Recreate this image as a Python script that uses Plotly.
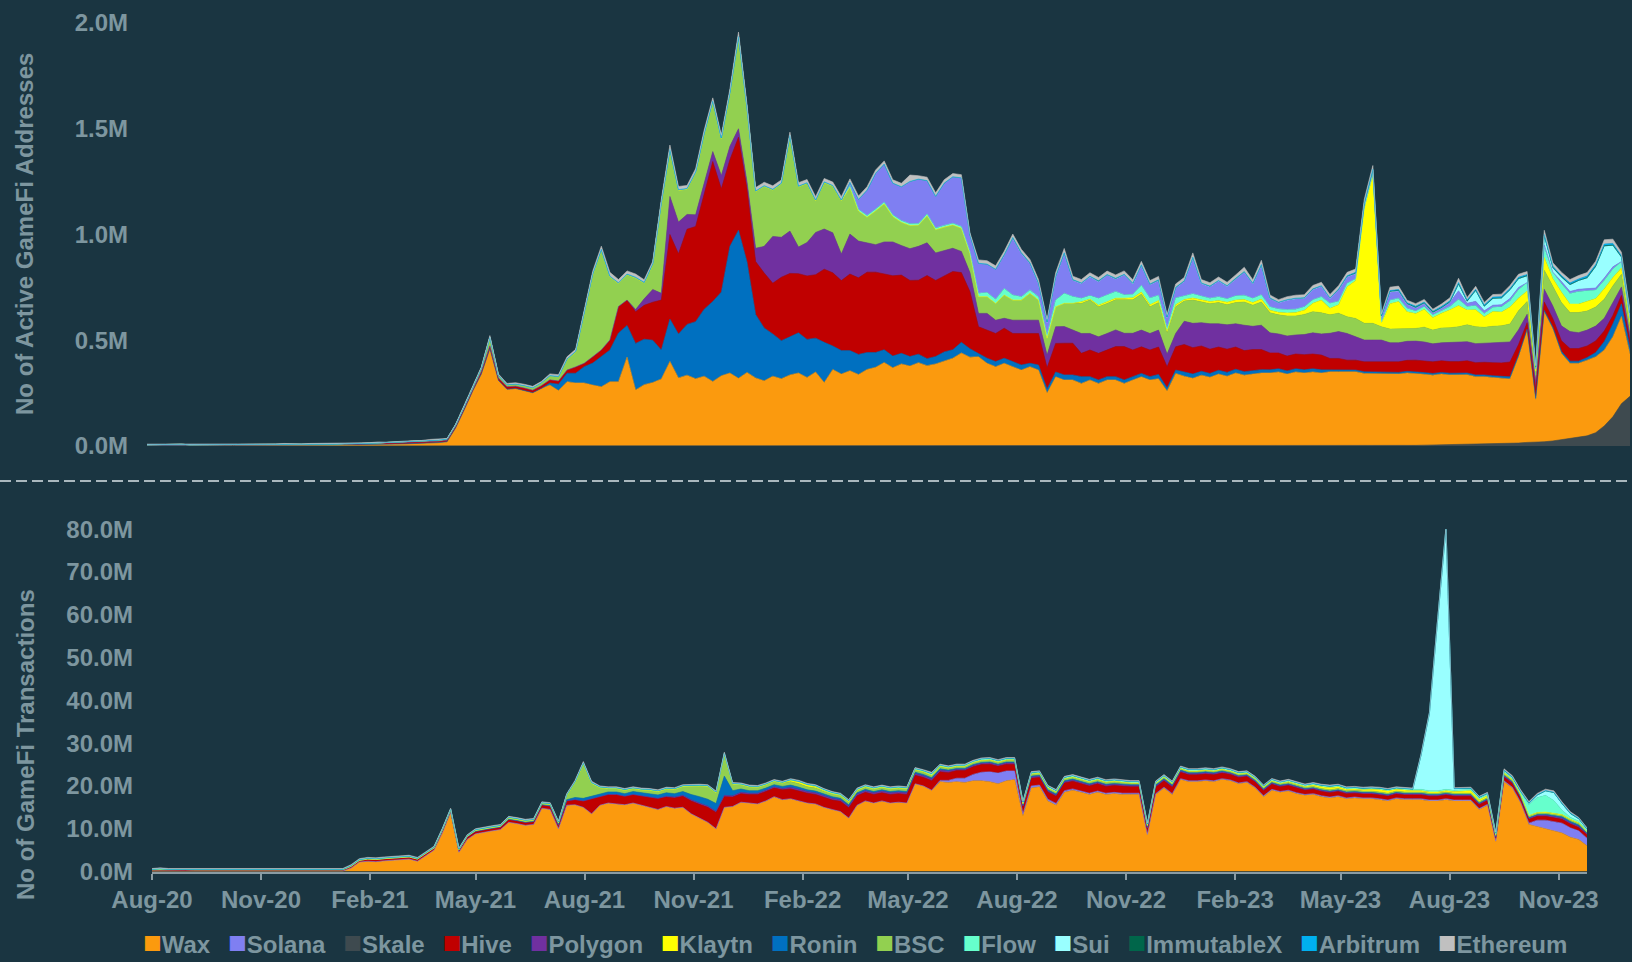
import pandas as pd
import plotly.graph_objects as go

# weekly samples, Aug 2020 -> Nov 2023
dates = pd.date_range("2020-08-01", periods=174, freq="7D")

# ---------- Active GameFi addresses (thousands) ----------
wax_addr = [
    2, 2, 2, 2, 3, 2, 3, 2, 3, 3,
    3, 3, 3, 4, 3, 4, 4, 4, 4, 5,
    5, 5, 5, 6, 6, 6, 7, 8, 8, 9,
    10, 11, 12, 14, 16, 20, 85, 170, 260, 340,
    460, 310, 268, 272, 262, 252, 272, 288, 262, 304,
    298, 298, 288, 280, 304, 304, 420, 265, 290, 300,
    317, 400, 322, 335, 318, 330, 305, 332, 345, 320,
    348, 322, 308, 330, 318, 336, 345, 324, 350, 300,
    362, 340, 356, 338, 362, 372, 395, 370, 388, 378,
    394, 380, 388, 400, 415, 440, 420, 422, 391, 375,
    391, 375, 359, 375, 359, 250, 327, 312, 312, 296,
    312, 296, 312, 312, 296, 312, 327, 312, 318, 260,
    343, 330, 320, 335, 325, 340, 330, 345, 335, 340,
    345, 345, 350, 340, 350, 345, 350, 345, 351, 351,
    351, 351, 343, 343, 343, 340, 340, 345, 340, 335,
    330, 335, 330, 330, 330, 320, 320, 315, 310, 305,
    408, 531, 199, 613, 530, 408, 357, 351, 358, 359,
    359, 379, 412, 200,
]
ronin_addr = [0] * 47 + [
    10, 30, 40,
    46, 77, 104, 142, 150, 230, 150, 220, 215, 200,
    137, 200, 207, 240, 270, 317, 378, 396, 599, 700,
    521, 300, 250, 200, 180, 180, 190, 180, 160, 190,
    111, 111, 95, 95, 80, 70, 60, 55, 50, 45,
    40, 33, 35, 45, 40, 50, 40, 15, 24, 24,
    24, 24, 24, 16, 24, 20, 23, 24, 24, 32,
    16, 16, 16, 16, 16, 16, 16, 16, 20, 15,
    16, 20, 20, 18, 18, 18, 18, 18, 16, 16,
    16, 15, 15, 15, 15, 15, 15, 15, 8, 8,
    8, 8, 8, 8, 8, 8, 8, 8, 8, 8,
    8, 8, 8, 8, 8, 8, 8, 8, 8, 10,
    8, 5, 8, 8, 8, 10, 10, 10, 12, 20,
    40, 60, 60, 30,
]
hive_addr = [
    4, 5, 4, 4, 5, 4, 4, 4, 5, 4,
    4, 4, 5, 4, 4, 4, 5, 4, 4, 4,
    5, 4, 4, 5, 4, 5, 5, 5, 5, 6,
    6, 6, 6, 7, 7, 7, 8, 9, 10, 12,
    14, 12, 12, 11, 12, 12, 13, 15, 15, 15,
    30, 16, 30, 32, 47, 125, 120, 150, 160, 180,
    236, 400, 380, 450, 450, 550, 662, 488, 410, 440,
    346, 250, 260, 240, 300, 300, 280, 300, 300, 346,
    346, 331, 362, 362, 380, 380, 360, 380, 370, 360,
    350, 393, 360, 360, 370, 330, 270, 127, 133, 133,
    142, 133, 149, 141, 149, 100, 135, 150, 150, 110,
    126, 126, 126, 142, 158, 126, 126, 126, 130, 100,
    110, 130, 125, 120, 115, 110, 110, 105, 100, 100,
    95, 80, 75, 70, 70, 72, 70, 70, 55, 55,
    47, 47, 47, 47, 47, 50, 50, 52, 55, 55,
    55, 55, 55, 55, 58, 58, 60, 62, 65, 70,
    50, 30, 40, 40, 40, 50, 60, 60, 55, 55,
    50, 40, 40, 30,
]
polygon_addr = [0] * 57 + [
    10, 31, 60,
    32, 180, 150, 70, 55, 48, 47, 63, 63, 40,
    32, 63, 126, 221, 189, 200, 126, 158, 200, 190,
    189, 126, 189, 174, 140, 130, 150, 160, 140, 150,
    160, 155, 130, 120, 110, 100, 90, 63, 79, 63,
    47, 63, 63, 63, 63, 60, 79, 79, 63, 94,
    78, 78, 78, 79, 63, 79, 79, 78, 80, 60,
    63, 110, 115, 110, 120, 110, 115, 110, 120, 110,
    115, 95, 90, 95, 90, 95, 100, 100, 119, 127,
    126, 110, 103, 103, 103, 90, 90, 90, 90, 90,
    85, 85, 90, 90, 90, 90, 90, 92, 95, 95,
    70, 40, 40, 60, 60, 70, 80, 75, 75, 70,
    60, 60, 40, 30,
]
bsc_addr = [0] * 25 + [
    1, 1, 2, 2, 3,
    3, 4, 4, 5, 5, 6, 7, 8, 10, 16,
    40, 12, 10, 10, 12, 12, 14, 20, 22, 50,
    70, 236, 390, 473, 299, 110, 120, 150, 75, 120,
    426, 220, 150, 120, 200, 230, 237, 174, 252, 434,
    347, 268, 284, 220, 253, 450, 285, 280, 150, 220,
    221, 252, 221, 142, 120, 160, 180, 120, 110, 110,
    100, 128, 110, 110, 110, 110, 90, 79, 79, 79,
    110, 95, 95, 127, 95, 80, 94, 110, 126, 142,
    158, 142, 142, 142, 158, 158, 170, 126, 130, 100,
    126, 95, 110, 100, 95, 100, 95, 100, 110, 100,
    110, 95, 90, 95, 90, 95, 100, 100, 87, 87,
    79, 87, 79, 79, 63, 65, 65, 60, 60, 70,
    65, 70, 70, 75, 80, 80, 75, 80, 80, 85,
    90, 60, 30, 90, 90, 110, 90, 95, 90, 90,
    90, 80, 60, 40,
]
klaytn_addr = [0] * 109 + [
    8,
    5, 8, 8, 8, 8, 10, 10, 10, 10, 8,
    10, 8, 10, 10, 10, 10, 12, 12, 12, 12,
    14, 12, 12, 14, 16, 20, 40, 60, 31, 40,
    142, 180, 540, 700, 16, 120, 130, 80, 70, 85,
    60, 70, 85, 100, 70, 80, 50, 70, 65, 80,
    60, 50, 20, 60, 40, 50, 40, 40, 45, 40,
    50, 40, 30, 20,
]
flow_addr = [0] * 49 + [
    3,
    3, 3, 3, 3, 3, 3, 3, 3, 3, 3,
    3, 3, 3, 3, 3, 3, 3, 3, 3, 3,
    3, 3, 3, 3, 3, 3, 3, 3, 3, 3,
    3, 3, 8, 8, 8, 8, 8, 8, 8, 8,
    8, 8, 8, 8, 8, 8, 8, 16, 20, 20,
    31, 24, 16, 16, 16, 15, 32, 47, 32, 16,
    16, 32, 32, 32, 16, 16, 32, 32, 25, 15,
    32, 16, 20, 16, 16, 18, 16, 20, 20, 20,
    20, 16, 16, 16, 16, 16, 16, 16, 24, 16,
    16, 8, 8, 8, 8, 16, 16, 16, 12, 12,
    12, 12, 16, 30, 16, 20, 16, 20, 25, 30,
    40, 40, 10, 50, 30, 40, 50, 60, 50, 40,
    40, 40, 30, 20,
]
solana_addr = [0] * 82 + [
    16, 47, 120, 170, 180, 150, 160, 200,
    210, 158, 150, 200, 220, 230, 80, 142, 134, 142,
    158, 270, 205, 126, 63, 60, 110, 190, 78, 71,
    90, 80, 95, 60, 95, 50, 95, 64, 70, 50,
    48, 70, 170, 60, 55, 75, 60, 80, 110, 70,
    140, 40, 30, 45, 50, 40, 50, 50, 23, 55,
    32, 25, 16, 16, 24, 40, 35, 20, 16, 16,
    10, 12, 20, 40, 16, 20, 12, 10, 10, 10,
    10, 0, 0, 10, 0, 10, 10, 10, 10, 10,
    10, 10, 0, 0,
]
sui_addr = [0] * 153 + [
    30, 8, 50, 20, 30, 30, 40,
    40, 30, 5, 40, 20, 20, 30, 40, 50, 100,
    150, 100, 20, 20,
]
skale_addr = [0] * 148 + [
    3, 4,
    5, 5, 6, 6, 7, 8, 8, 9, 10, 12,
    14, 17, 18, 20, 24, 30, 34, 40, 48, 63,
    95, 138, 200, 235,
]
imx_addr = [0] * 100 + [
    2, 2, 3, 2, 2, 2, 3, 2, 2, 2,
    2, 3, 2, 2, 2, 3, 2, 2, 3, 2,
    2, 2, 3, 2, 2, 2, 2, 3, 2, 2,
    3, 2, 2, 2, 2, 3, 2, 2, 2, 3,
    2, 2, 3, 2, 2, 3, 2, 2, 2, 2,
    3, 2, 2, 3, 2, 2, 2, 3, 2, 2,
    2, 3, 2, 3, 2, 2, 3, 2, 3, 3,
    3, 3, 2, 2,
]
arb_addr = [0] * 140 + [
    2, 3, 3, 4, 3, 3, 4, 4, 5, 4,
    4, 5, 5, 6, 5, 5, 6, 5, 6, 6,
    6, 5, 3, 6, 6, 6, 7, 7, 8, 8,
    8, 8, 6, 4,
]
eth_addr = [
    3, 2, 3, 2, 2, 3, 2, 2, 3, 2,
    2, 3, 2, 2, 3, 2, 3, 2, 2, 3,
    2, 3, 3, 2, 3, 3, 3, 4, 3, 4,
    4, 4, 4, 5, 5, 3, 3, 4, 5, 6,
    8, 6, 6, 6, 6, 6, 6, 8, 8, 10,
    10, 15, 12, 15, 18, 15, 15, 15, 12, 10,
    15, 20, 15, 14, 15, 16, 14, 15, 16, 20,
    16, 16, 16, 16, 15, 15, 16, 15, 16, 16,
    16, 16, 16, 16, 16, 15, 15, 16, 16, 30,
    16, 16, 16, 16, 15, 15, 10, 16, 16, 16,
    16, 16, 16, 16, 16, 12, 16, 20, 16, 16,
    16, 16, 16, 16, 16, 16, 16, 16, 16, 12,
    16, 16, 20, 16, 16, 16, 16, 16, 20, 16,
    20, 14, 12, 14, 14, 14, 16, 16, 16, 16,
    16, 16, 16, 16, 8, 16, 16, 12, 12, 12,
    10, 12, 14, 20, 12, 14, 12, 12, 12, 14,
    14, 14, 5, 20, 16, 16, 16, 16, 16, 16,
    20, 20, 16, 10,
]

# ---------- GameFi transactions (millions) ----------
wax_tx = [
    0.1, 0.1, 0.1, 0.1, 0.1, 0.1, 0.1, 0.1, 0.1, 0.1,
    0.1, 0.1, 0.1, 0.1, 0.1, 0.1, 0.1, 0.1, 0.1, 0.1,
    0.1, 0.1, 0.1, 0.1, 0.8, 2.2, 2.4, 2.3, 2.5, 2.6,
    2.8, 2.9, 2.4, 3.8, 5.0, 9.0, 13.8, 4.5, 7.5, 8.8,
    9.2, 9.5, 9.8, 11.5, 11.2, 10.8, 11.0, 14.8, 14.5, 10.0,
    15.5, 15.6, 15.0, 13.5, 15.5, 16.0, 15.8, 15.6, 16.0, 15.5,
    15.0, 14.5, 15.2, 14.8, 15.0, 13.5, 12.5, 11.5, 10.0, 15.0,
    15.2, 16.2, 16.0, 15.8, 16.5, 17.5, 16.8, 17.0, 16.5, 16.0,
    15.8, 15.0, 14.5, 14.0, 12.5, 15.5, 16.5, 16.0, 16.5, 16.0,
    16.2, 16.0, 20.5, 20.0, 19.0, 21.0, 20.8, 21.0, 20.8, 21.2,
    21.2, 21.0, 20.5, 21.2, 21.5, 13.0, 19.5, 19.8, 16.5, 15.5,
    18.5, 19.0, 18.5, 18.0, 18.5, 18.0, 18.2, 18.0, 18.0, 18.0,
    8.5, 18.0, 19.5, 18.0, 21.5, 21.0, 21.0, 21.2, 21.0, 21.5,
    21.2, 20.5, 20.8, 19.5, 17.5, 19.0, 18.5, 18.8, 18.2, 17.8,
    18.0, 17.5, 17.2, 17.5, 17.0, 17.2, 17.0, 17.0, 16.8, 16.5,
    17.0, 16.8, 16.8, 16.8, 16.5, 16.5, 16.8, 16.5, 16.5, 16.5,
    14.5, 15.5, 7.0, 21.0, 19.5, 16.0, 11.0, 10.5, 10.0, 9.5,
    9.0, 8.0, 7.5, 6.0,
]
hive_tx = [
    0.3, 0.35, 0.3, 0.3, 0.35, 0.3, 0.3, 0.3, 0.3, 0.3,
    0.3, 0.3, 0.3, 0.35, 0.3, 0.3, 0.3, 0.3, 0.3, 0.3,
    0.3, 0.3, 0.35, 0.3, 0.4, 0.4, 0.5, 0.5, 0.5, 0.5,
    0.5, 0.5, 0.5, 0.5, 0.5, 0.6, 0.5, 0.5, 0.6, 0.6,
    0.6, 0.6, 0.6, 0.7, 0.7, 0.7, 0.7, 0.8, 0.8, 0.8,
    1.0, 1.2, 1.5, 3.5, 2.0, 2.0, 2.2, 2.0, 2.0, 2.2,
    2.4, 2.5, 2.2, 2.4, 2.6, 3.0, 3.2, 3.5, 3.8, 2.5,
    2.2, 2.0, 2.0, 2.2, 2.2, 2.0, 2.3, 2.3, 2.3, 2.3,
    2.2, 2.3, 2.2, 2.4, 2.4, 2.2, 2.0, 2.0, 1.9, 2.0,
    2.0, 2.0, 2.0, 2.0, 2.2, 2.0, 1.8, 1.8, 1.8, 1.8,
    1.8, 1.8, 1.6, 1.6, 1.6, 1.5, 1.8, 1.8, 1.7, 1.7,
    1.8, 1.8, 1.8, 1.7, 1.7, 1.6, 1.6, 1.6, 1.5, 1.5,
    1.2, 1.5, 1.5, 1.5, 1.5, 1.4, 1.4, 1.4, 1.4, 1.3,
    1.3, 1.3, 1.2, 1.2, 1.2, 1.2, 1.1, 1.1, 1.1, 1.0,
    1.0, 1.0, 1.0, 1.0, 1.0, 0.9, 0.9, 0.9, 0.9, 0.9,
    0.9, 0.9, 0.9, 0.9, 0.9, 0.9, 0.9, 0.9, 0.9, 0.9,
    0.9, 0.9, 0.8, 0.9, 0.9, 0.9, 0.9, 0.9, 0.9, 0.9,
    0.9, 0.9, 0.8, 0.8,
]
bsc_tx = [0] * 35 + [
    0.1, 0.1, 0.1, 0.1, 0.2,
    0.2, 0.2, 0.2, 0.3, 0.3, 0.3, 0.3, 0.3, 0.3, 0.4,
    1.0, 3.5, 8.0, 3.0, 1.5, 0.8, 0.8, 0.8, 0.7, 0.7,
    0.8, 0.8, 0.9, 1.0, 1.2, 2.0, 2.5, 3.0, 2.5, 5.0,
    1.5, 1.0, 0.9, 0.8, 0.8, 0.8, 0.8, 0.8, 0.8, 0.7,
    0.7, 0.6, 0.6, 0.6, 0.6, 0.5, 0.5, 0.5, 0.5, 0.5,
    0.5, 0.5, 0.5, 0.5, 0.5, 0.5, 0.4, 0.4, 0.4, 0.4,
    0.4, 0.4, 0.4, 0.4, 0.4, 0.3, 0.4, 0.4, 0.4, 0.4,
    0.4, 0.4, 0.4, 0.4, 0.4, 0.4, 0.4, 0.4, 0.3, 0.3,
    0.3, 0.3, 0.3, 0.3, 0.3, 0.3, 0.3, 0.3, 0.3, 0.3,
    0.3, 0.3, 0.3, 0.3, 0.3, 0.3, 0.3, 0.3, 0.3, 0.3,
    0.3, 0.3, 0.3, 0.3, 0.3, 0.3, 0.3, 0.3, 0.3, 0.3,
    0.3, 0.3, 0.3, 0.3, 0.3, 0.3, 0.3, 0.3, 0.3, 0.3,
    0.3, 0.3, 0.2, 0.3, 0.3, 0.3, 0.3, 0.3, 0.3, 0.3,
    0.3, 0.3, 0.3, 0.2,
]
ronin_tx = [0] * 48 + [
    0.1, 0.2,
    0.3, 0.5, 0.6, 0.6, 0.6, 0.6, 0.6, 0.6, 0.7, 0.7,
    0.7, 0.8, 0.8, 0.8, 0.9, 1.2, 1.5, 1.6, 1.8, 4.5,
    1.2, 0.8, 0.6, 0.6, 0.5, 0.5, 0.5, 0.5, 0.5, 0.4,
    0.4, 0.4, 0.4, 0.3, 0.3, 0.3, 0.3, 0.3, 0.3, 0.3,
    0.3, 0.3, 0.3, 0.3, 0.3, 0.3, 0.2, 0.2, 0.2, 0.2,
    0.2, 0.2, 0.2, 0.2, 0.2, 0.2, 0.2, 0.2, 0.2, 0.2,
    0.2, 0.2, 0.2, 0.2, 0.2, 0.2, 0.2, 0.2, 0.2, 0.2,
    0.2, 0.2, 0.2, 0.2, 0.2, 0.2, 0.2, 0.2, 0.2, 0.2,
    0.1, 0.1, 0.1, 0.1, 0.1, 0.1, 0.1, 0.1, 0.1, 0.1,
    0.1, 0.1, 0.1, 0.1, 0.1, 0.1, 0.1, 0.1, 0.1, 0.1,
    0.1, 0.1, 0.1, 0.1, 0.1, 0.1, 0.1, 0.1, 0.1, 0.1,
    0.1, 0.1, 0.1, 0.1, 0.1, 0.1, 0.1, 0.1, 0.2, 0.2,
    0.3, 0.3, 0.3, 0.2,
]
polygon_tx = [0] * 60 + [
    0.1, 0.1, 0.2, 0.2, 0.2, 0.3, 0.3, 0.3, 0.3, 0.3,
    0.3, 0.3, 0.3, 0.3, 0.3, 0.3, 0.3, 0.4, 0.4, 0.4,
    0.4, 0.4, 0.4, 0.4, 0.4, 0.4, 0.4, 0.4, 0.4, 0.4,
    0.4, 0.4, 0.4, 0.4, 0.4, 0.4, 0.4, 0.3, 0.3, 0.3,
    0.3, 0.3, 0.3, 0.3, 0.3, 0.3, 0.3, 0.3, 0.3, 0.3,
    0.3, 0.3, 0.3, 0.3, 0.3, 0.3, 0.3, 0.3, 0.3, 0.3,
    0.3, 0.3, 0.3, 0.3, 0.3, 0.3, 0.3, 0.3, 0.3, 0.3,
    0.3, 0.3, 0.3, 0.3, 0.3, 0.3, 0.3, 0.3, 0.3, 0.3,
    0.3, 0.3, 0.3, 0.3, 0.3, 0.3, 0.3, 0.3, 0.3, 0.3,
    0.3, 0.3, 0.3, 0.3, 0.3, 0.3, 0.3, 0.3, 0.3, 0.3,
    0.3, 0.3, 0.2, 0.3, 0.3, 0.3, 0.3, 0.3, 0.3, 0.3,
    0.3, 0.3, 0.3, 0.2,
]
klaytn_tx = [0] * 77 + [
    0.3, 0.4, 0.4,
    0.3, 0.2, 0.1, 0.1, 0.1, 0.1, 0.1, 0.1, 0.1, 0.1,
    0.1, 0.1, 0.1, 0.1, 0.1, 0.1, 0.1, 0.1, 0.1, 0.1,
    0.1, 0.1, 0.1, 0.1, 0.1, 0.1, 0.1, 0.1, 0.1, 0.1,
    0.1, 0.1, 0.1, 0.1, 0.1, 0.1, 0.1, 0.1, 0.1, 0.1,
    0.1, 0.1, 0.1, 0.1, 0.1, 0.1, 0.1, 0.1, 0.1, 0.1,
    0.1, 0.1, 0.1, 0.1, 0.1, 0.1, 0.1, 0.2, 0.2, 0.2,
    0.3, 0.4, 0.5, 0.4, 0.3, 0.3, 0.3, 0.4, 0.5, 0.5,
    0.4, 0.4, 0.3, 0.3, 0.3, 0.3, 0.3, 0.4, 0.5, 0.6,
    0.5, 0.4, 0.2, 0.3, 0.2, 0.2, 0.2, 0.2, 0.2, 0.2,
    0.2, 0.2, 0.2, 0.1,
]
flow_tx = [
    0.1, 0.2, 0.1, 0.1, 0.2, 0.1, 0.1, 0.2, 0.1, 0.1,
    0.1, 0.1, 0.1, 0.1, 0.2, 0.1, 0.1, 0.1, 0.2, 0.1,
    0.1, 0.2, 0.1, 0.1, 0.2, 0.2, 0.2, 0.2, 0.2, 0.2,
    0.2, 0.2, 0.2, 0.2, 0.2, 0.2, 0.2, 0.2, 0.2, 0.2,
    0.2, 0.2, 0.2, 0.2, 0.2, 0.2, 0.2, 0.2, 0.2, 0.2,
    0.2, 0.2, 0.3, 0.2, 0.2, 0.2, 0.2, 0.2, 0.2, 0.2,
    0.2, 0.2, 0.2, 0.2, 0.2, 0.2, 0.2, 0.2, 0.2, 0.3,
    0.2, 0.2, 0.2, 0.2, 0.2, 0.2, 0.2, 0.2, 0.2, 0.2,
    0.3, 0.3, 0.3, 0.3, 0.3, 0.3, 0.3, 0.3, 0.3, 0.3,
    0.3, 0.3, 0.3, 0.3, 0.4, 0.3, 0.3, 0.3, 0.3, 0.3,
    0.3, 0.3, 0.3, 0.3, 0.3, 0.3, 0.3, 0.3, 0.3, 0.3,
    0.3, 0.3, 0.3, 0.3, 0.3, 0.3, 0.3, 0.3, 0.3, 0.3,
    0.3, 0.3, 0.3, 0.3, 0.3, 0.3, 0.3, 0.3, 0.3, 0.3,
    0.3, 0.3, 0.3, 0.3, 0.3, 0.3, 0.3, 0.3, 0.3, 0.3,
    0.3, 0.3, 0.3, 0.3, 0.3, 0.3, 0.3, 0.3, 0.3, 0.3,
    0.3, 0.3, 0.3, 0.3, 0.3, 0.3, 0.3, 0.3, 0.3, 0.3,
    0.3, 0.3, 0.2, 0.3, 0.3, 0.5, 2.5, 3.5, 3.9, 3.0,
    1.0, 0.5, 0.4, 0.3,
]
solana_tx = [0] * 95 + [
    0.3, 0.5, 0.8, 1.0, 1.5,
    2.0, 2.3, 2.5, 2.3, 2.0, 0.5, 0.5, 0.4, 0.4, 0.4,
    0.4, 0.3, 0.3, 0.3, 0.3, 0.3, 0.3, 0.3, 0.3, 0.3,
    0.2, 0.2, 0.2, 0.2, 0.2, 0.2, 0.2, 0.2, 0.2, 0.2,
    0.2, 0.2, 0.2, 0.2, 0.2, 0.2, 0.2, 0.2, 0.2, 0.2,
    0.2, 0.2, 0.2, 0.2, 0.2, 0.2, 0.2, 0.2, 0.2, 0.2,
    0.2, 0.2, 0.2, 0.2, 0.2, 0.2, 0.2, 0.2, 0.2, 0.2,
    0.2, 0.2, 0.1, 0.2, 0.2, 0.2, 0.3, 1.5, 2.0, 2.2,
    2.3, 2.2, 2.0, 1.8,
]
sui_tx = [0] * 153 + [
    8.0, 18.0, 40.0, 61.0, 0.3, 0.2, 0.2,
    0.2, 0.2, 0.1, 0.2, 0.2, 0.2, 0.3, 0.5, 1.0, 1.8,
    1.5, 0.8, 0.5, 0.3,
]
imx_tx = [0] * 100 + [
    0.05, 0.05, 0.05, 0.05, 0.05, 0.05, 0.05, 0.05, 0.05, 0.05,
    0.05, 0.05, 0.05, 0.05, 0.05, 0.05, 0.05, 0.05, 0.05, 0.05,
    0.05, 0.05, 0.05, 0.05, 0.05, 0.05, 0.05, 0.05, 0.05, 0.05,
    0.05, 0.05, 0.05, 0.05, 0.05, 0.05, 0.05, 0.05, 0.05, 0.05,
    0.05, 0.05, 0.05, 0.05, 0.05, 0.05, 0.05, 0.05, 0.05, 0.05,
    0.05, 0.05, 0.05, 0.05, 0.05, 0.05, 0.05, 0.05, 0.05, 0.05,
    0.05, 0.05, 0.05, 0.05, 0.05, 0.05, 0.05, 0.05, 0.05, 0.05,
    0.05, 0.05, 0.05, 0.05,
]
arb_tx = [0] * 140 + [
    0.05, 0.05, 0.05, 0.05, 0.05, 0.05, 0.05, 0.05, 0.05, 0.05,
    0.05, 0.05, 0.05, 0.05, 0.05, 0.05, 0.05, 0.05, 0.05, 0.05,
    0.05, 0.05, 0.05, 0.05, 0.05, 0.05, 0.1, 0.1, 0.1, 0.1,
    0.1, 0.1, 0.1, 0.05,
]
eth_tx = [
    0.2, 0.2, 0.2, 0.2, 0.2, 0.2, 0.2, 0.2, 0.2, 0.2,
    0.2, 0.2, 0.2, 0.2, 0.2, 0.2, 0.2, 0.2, 0.2, 0.2,
    0.2, 0.2, 0.2, 0.2, 0.2, 0.2, 0.2, 0.2, 0.2, 0.2,
    0.2, 0.2, 0.2, 0.2, 0.2, 0.2, 0.2, 0.2, 0.2, 0.2,
    0.2, 0.2, 0.2, 0.2, 0.2, 0.2, 0.2, 0.2, 0.2, 0.2,
    0.2, 0.3, 0.3, 0.3, 0.2, 0.2, 0.2, 0.2, 0.2, 0.2,
    0.2, 0.2, 0.2, 0.2, 0.2, 0.2, 0.2, 0.2, 0.2, 0.3,
    0.2, 0.2, 0.2, 0.2, 0.2, 0.2, 0.2, 0.2, 0.2, 0.2,
    0.2, 0.2, 0.2, 0.2, 0.2, 0.2, 0.2, 0.2, 0.2, 0.2,
    0.2, 0.2, 0.2, 0.2, 0.3, 0.2, 0.2, 0.2, 0.2, 0.2,
    0.2, 0.2, 0.2, 0.2, 0.2, 0.2, 0.2, 0.2, 0.2, 0.2,
    0.2, 0.2, 0.2, 0.2, 0.2, 0.2, 0.2, 0.2, 0.2, 0.2,
    0.2, 0.2, 0.2, 0.2, 0.2, 0.2, 0.2, 0.2, 0.2, 0.2,
    0.2, 0.2, 0.2, 0.2, 0.2, 0.2, 0.2, 0.2, 0.2, 0.2,
    0.2, 0.2, 0.2, 0.2, 0.2, 0.2, 0.2, 0.2, 0.2, 0.2,
    0.2, 0.2, 0.2, 0.2, 0.2, 0.2, 0.3, 0.2, 0.2, 0.2,
    0.2, 0.2, 0.2, 0.3, 0.3, 0.3, 0.3, 0.3, 0.3, 0.3,
    0.3, 0.3, 0.2, 0.2,
]

legend_names = ["Wax", "Solana", "Skale", "Hive", "Polygon", "Klaytn", "Ronin",
                "BSC", "Flow", "Sui", "ImmutableX", "Arbitrum", "Ethereum"]
colors = {
    "Wax": "#FB9A0E", "Solana": "#7F7FF2", "Skale": "#3E4A4F", "Hive": "#C00000",
    "Polygon": "#7030A0", "Klaytn": "#FFFF00", "Ronin": "#0070C0", "BSC": "#92D050",
    "Flow": "#66FFCC", "Sui": "#99FFFF", "ImmutableX": "#00664A", "Arbitrum": "#00B0F0",
    "Ethereum": "#C0C0C0",
}

# stacking order, bottom layer first
addr_stack = [("Skale", skale_addr), ("Wax", wax_addr), ("Ronin", ronin_addr),
              ("Hive", hive_addr), ("Polygon", polygon_addr), ("BSC", bsc_addr),
              ("Klaytn", klaytn_addr), ("Flow", flow_addr), ("Solana", solana_addr),
              ("Sui", sui_addr), ("ImmutableX", imx_addr), ("Arbitrum", arb_addr),
              ("Ethereum", eth_addr)]
tx_stack = [("Wax", wax_tx), ("Solana", solana_tx), ("Hive", hive_tx),
            ("Polygon", polygon_tx), ("Ronin", ronin_tx), ("BSC", bsc_tx),
            ("Klaytn", klaytn_tx), ("Flow", flow_tx), ("Sui", sui_tx),
            ("ImmutableX", imx_tx), ("Arbitrum", arb_tx), ("Ethereum", eth_tx)]

BG = "#1A3541"
TXT = "#7D969F"
AXIS = "#8A9CA4"
W, H = 1632, 962

fig = go.Figure()
for name, vals in addr_stack:
    fig.add_trace(go.Scatter(
        x=dates, y=[v / 1000 for v in vals], name=name, mode="lines",
        stackgroup="addr", line=dict(width=0.6, color=colors[name]),
        fillcolor=colors[name], showlegend=False, xaxis="x", yaxis="y"))
for name, vals in tx_stack:
    fig.add_trace(go.Scatter(
        x=dates, y=vals, name=name, mode="lines",
        stackgroup="tx", line=dict(width=0.6, color=colors[name]),
        fillcolor=colors[name], showlegend=False, xaxis="x2", yaxis="y2"))

font = dict(family="Liberation Sans, Arial, sans-serif", size=24, color=TXT, weight="bold")

fig.update_layout(
    width=W, height=H, margin=dict(l=0, r=0, t=0, b=0, autoexpand=False),
    paper_bgcolor=BG, plot_bgcolor=BG, font=font, showlegend=False,
    xaxis=dict(domain=[147 / W, 1630 / W], range=[dates[0], dates[-1]],
               visible=False, anchor="y"),
    yaxis=dict(domain=[(H - 446) / H, (H - 23) / H], range=[0, 2.0], dtick=0.5,
               tickformat=".1f", ticksuffix="M", showgrid=False, zeroline=False,
               showline=False, ticks="", ticklabelstandoff=18, anchor="x",
               automargin=False),
    xaxis2=dict(domain=[152 / W, 1587 / W], range=[dates[0], dates[-1]],
                tickformat="%b-%y", tick0="2020-08-01", dtick="M3",
                ticks="outside", ticklen=6, tickwidth=2, tickcolor=AXIS,
                showline=True, linecolor=AXIS, linewidth=2, showgrid=False,
                zeroline=False, ticklabelstandoff=0, anchor="y2", automargin=False),
    yaxis2=dict(domain=[(H - 871.5) / H, (H - 529.3) / H], range=[0, 80], dtick=10,
                tickformat=".1f", ticksuffix="M", showgrid=False, zeroline=False,
                showline=False, ticks="", ticklabelstandoff=18, anchor="x2",
                automargin=False),
)

# axis titles
fig.add_annotation(text="No of Active GameFi Addresses", x=25 / W, y=(H - 234) / H,
                   xref="paper", yref="paper", textangle=-90, showarrow=False,
                   xanchor="center", yanchor="middle")
fig.add_annotation(text="No of GameFi Transactions", x=25 / W, y=(H - 745) / H,
                   xref="paper", yref="paper", textangle=-90, showarrow=False,
                   xanchor="center", yanchor="middle")

# legend row
gap = "<span style='font-size:32px'>&nbsp;&nbsp;</span>"
items = [f"<span style='color:{colors[n]};font-size:31px'>■</span>{n}" for n in legend_names]
fig.add_annotation(text=gap.join(items), x=141 / W, y=(H - 942) / H,
                   xref="paper", yref="paper", showarrow=False,
                   xanchor="left", yanchor="middle")

# dashed separator
fig.add_shape(type="line", xref="paper", yref="paper", x0=0, x1=1,
              y0=(H - 481) / H, y1=(H - 481) / H,
              line=dict(color="#AAB8BE", width=2, dash="11px,5px"))

fig.write_html("out.html", config={"displayModeBar": False},
               post_script="document.body.style.margin='0';document.body.style.overflow='hidden';")
